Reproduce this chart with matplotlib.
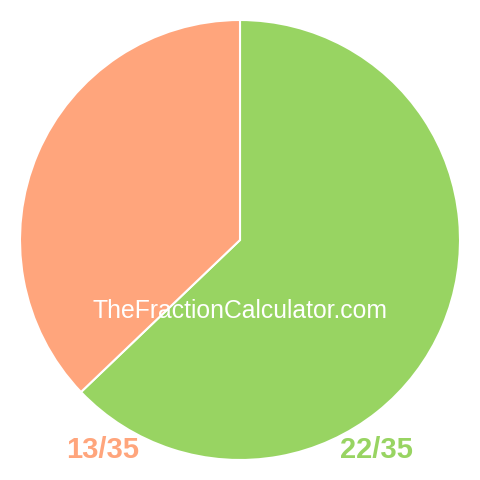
import matplotlib.pyplot as plt

# dane wykresu
labels = ['22/35', '13/35']
values = [22, 13]
colors = ['#98d462', '#ffa57c']

fig = plt.figure(figsize=(4.8, 4.8), dpi=100)
ax = fig.add_axes([0, 0, 1, 1])

ax.pie(values, colors=colors, startangle=90, counterclock=False,
       center=(240, 240), radius=220, frame=True,
       wedgeprops=dict(edgecolor='white', linewidth=1.5))
ax.set_xlim(0, 480)
ax.set_ylim(0, 480)
ax.set_aspect('equal')
ax.axis('off')

# etykiety pod kołem
ax.text(103, 30, labels[1], color=colors[1], fontsize=21, fontweight='bold',
        family='Liberation Sans', ha='center', va='center')
ax.text(376, 30, labels[0], color=colors[0], fontsize=21, fontweight='bold',
        family='Liberation Sans', ha='center', va='center')

ax.text(240, 169, 'TheFractionCalculator.com', color='white', fontsize=17.8,
        family='Liberation Sans', ha='center', va='center')

fig.savefig('out.png', dpi=100)
